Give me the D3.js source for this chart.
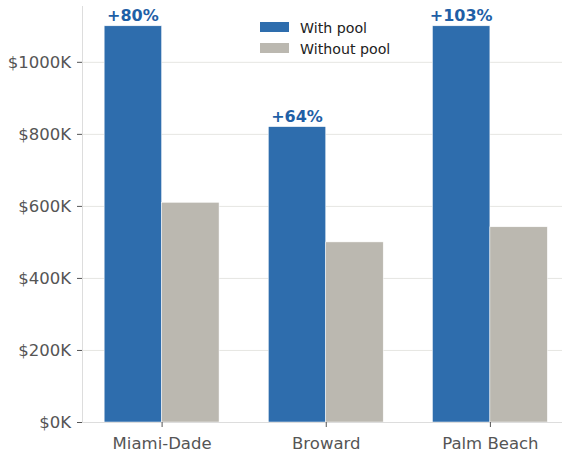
<!DOCTYPE html>
<html>
<head>
<meta charset="utf-8">
<script src="https://cdn.jsdelivr.net/npm/d3@7"></script>
<style>
  body { margin: 0; background: #fff; }
  svg { display: block; font-family: "DejaVu Sans", sans-serif; }
</style>
</head>
<body>
<div id="chart"></div>
<script>
// data (values in $K)
let counties = ["Miami-Dade", "Broward", "Palm Beach"];
let withPool = [1100, 820, 1100];
let withoutPool = [610, 500, 542];
let seriesNames = ["With pool", "Without pool"];
let yTicks = [0, 200, 400, 600, 800, 1000];

let colors = {with: "#2e6dad", without: "#bbb8b0", label: "#1f5fa6"};

let width = 562, height = 455;
let margin = {top: 6, left: 82, bottom: 33};

let svg = d3.select("#chart").append("svg")
    .attr("width", width)
    .attr("height", height);

// x: category positions, like a numeric axis with bars at +-0.35/2
let barW = 0.35;
let x = d3.scaleLinear()
    .domain([-0.485, 2.485])
    .range([margin.left, 569.5]);

let y = d3.scaleLinear()
    .domain([0, 1155])
    .range([height - margin.bottom, margin.top]);

let plot = svg.append("g");

// grid lines
plot.selectAll(".grid")
    .data(yTicks)
    .enter()
    .append("line")
    .attr("class", "grid")
    .attr("x1", margin.left)
    .attr("x2", width)
    .attr("y1", d => y(d) + 0.5)
    .attr("y2", d => y(d) + 0.5)
    .style("stroke", "#e6e6e2")
    .style("stroke-width", 1);

// bars
counties.forEach(function (c, i) {
    plot.append("rect")
        .attr("x", x(i - barW))
        .attr("y", y(withPool[i]))
        .attr("width", x(i) - x(i - barW))
        .attr("height", y(0) - y(withPool[i]))
        .style("fill", colors.with)
        .style("stroke", "#fff")
        .style("stroke-width", 0.5);
    plot.append("rect")
        .attr("x", x(i))
        .attr("y", y(withoutPool[i]))
        .attr("width", x(i + barW) - x(i))
        .attr("height", y(0) - y(withoutPool[i]))
        .style("fill", colors.without)
        .style("stroke", "#fff")
        .style("stroke-width", 0.5);

    // premium label
    let pct = Math.round((withPool[i] / withoutPool[i] - 1) * 100);
    plot.append("text")
        .attr("x", x(i - barW / 2))
        .attr("y", y(withPool[i]) - 5)
        .attr("text-anchor", "middle")
        .style("font-size", "16px")
        .style("font-weight", "bold")
        .style("fill", colors.label)
        .text("+" + pct + "%");
});

// axes
let yAxis = svg.append("g")
    .attr("transform", "translate(" + margin.left + ",0)")
    .call(d3.axisLeft(y).tickValues(yTicks).tickSize(5).tickPadding(6)
        .tickFormat(d => "$" + d + "K"));
let xAxis = svg.append("g")
    .attr("transform", "translate(0," + y(0) + ")")
    .call(d3.axisBottom(x).tickValues([0, 1, 2]).tickSize(5).tickPadding(10)
        .tickFormat((d, i) => counties[i]));

[yAxis, xAxis].forEach(function (a) {
    a.select(".domain").style("stroke", "#dddddd").style("stroke-width", 1);
    a.selectAll(".tick line").style("stroke", "#555");
    a.selectAll(".tick text")
        .style("font-family", "DejaVu Sans")
        .style("font-size", "16.5px")
        .style("fill", "#555");
});
// domain path without outer ticks
yAxis.select(".domain").attr("d", "M0.5," + y(0) + "V" + y(1155));
xAxis.select(".domain").attr("d", "M" + margin.left + ",0.5H" + width);

// legend
let legend = svg.append("g").attr("transform", "translate(260,22)");
seriesNames.forEach(function (s, i) {
    let g = legend.append("g").attr("transform", "translate(0," + (i * 21) + ")");
    g.append("rect")
        .attr("width", 29)
        .attr("height", 10)
        .style("fill", i === 0 ? colors.with : colors.without);
    g.append("text")
        .attr("x", 40)
        .attr("y", 10.5)
        .style("font-size", "14.2px")
        .style("fill", "#222")
        .text(s);
});
</script>
</body>
</html>
